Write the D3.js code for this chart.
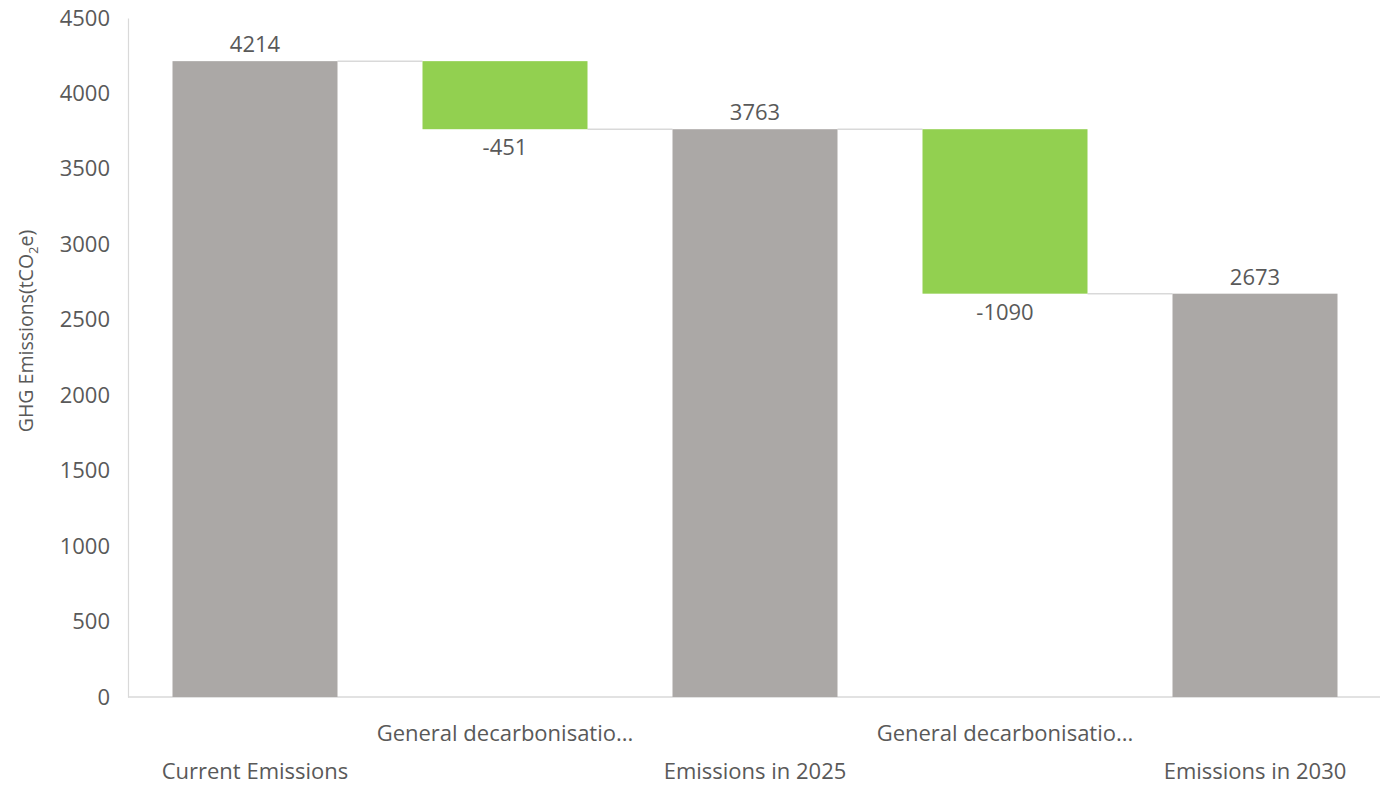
<!DOCTYPE html>
<html>
<head>
<meta charset="utf-8">
<script src="https://cdn.jsdelivr.net/npm/d3@7"></script>
<style>
  html, body { margin: 0; padding: 0; background: #fff; }
  svg { display: block; font-family: "Open Sans", "Noto Sans", sans-serif; }
</style>
</head>
<body>
<svg id="chart" width="1387" height="787"></svg>
<script>
// Waterfall steps: totals and changes
const categories = ["Current Emissions", "General decarbonisatio...", "Emissions in 2025", "General decarbonisatio...", "Emissions in 2030"];
const stepKinds = ["total", "change", "total", "change", "total"];
const stepValues = [4214, -451, 3763, -1090, 2673];
const yTicks = [0, 500, 1000, 1500, 2000, 2500, 3000, 3500, 4000, 4500];

const svg = d3.select("#chart");
const margin = { top: 18, right: 7, bottom: 90, left: 130 };
const W = 1387, H = 787;
const fontSize = 22;

const x = d3.scaleBand()
  .domain(d3.range(categories.length))
  .range([margin.left, W - margin.right])
  .paddingInner(0.34)
  .paddingOuter(0.17);

const y = d3.scaleLinear()
  .domain([0, 4500])
  .range([H - margin.bottom, margin.top]);

// Build running start/end for each step
let running = 0;
const steps = stepValues.map((v, i) => {
  let start, end;
  if (stepKinds[i] === "total") { start = 0; end = v; running = v; }
  else { start = running; end = running + v; running = end; }
  return { i, kind: stepKinds[i], value: v, start, end, level: running };
});

const textColor = "#595959";
const gridColor = "#d9d9d9";

// Y axis
const yAxis = svg.append("g")
  .attr("transform", `translate(${margin.left - 2},0)`)
  .call(d3.axisLeft(y).tickValues(yTicks).tickFormat(d3.format("d")).tickSize(0).tickPadding(18));
yAxis.select(".domain").attr("stroke", gridColor).attr("stroke-width", 1.2);
yAxis.selectAll("text").attr("fill", textColor).attr("font-size", fontSize)
  .attr("font-family", "'Open Sans', sans-serif");

// Baseline
svg.append("line")
  .attr("x1", margin.left - 2).attr("x2", W - margin.right)
  .attr("y1", y(0)).attr("y2", y(0))
  .attr("stroke", gridColor).attr("stroke-width", 1.5);

// Connector lines between consecutive bars
steps.slice(0, -1).forEach(s => {
  svg.append("line")
    .attr("x1", x(s.i) + x.bandwidth()).attr("x2", x(s.i + 1))
    .attr("y1", y(s.level)).attr("y2", y(s.level))
    .attr("stroke", gridColor).attr("stroke-width", 1.5);
});

// Bars
svg.append("g").selectAll("rect")
  .data(steps)
  .join("rect")
  .attr("x", d => x(d.i))
  .attr("width", x.bandwidth())
  .attr("y", d => y(Math.max(d.start, d.end)))
  .attr("height", d => Math.abs(y(d.start) - y(d.end)))
  .attr("fill", d => d.kind === "total" ? "#aba8a6" : "#92d050");

// Value labels
svg.append("g").selectAll("text")
  .data(steps)
  .join("text")
  .attr("x", d => x(d.i) + x.bandwidth() / 2)
  .attr("y", d => d.kind === "total" ? y(d.end) - 9 : y(d.end) + 26)
  .attr("text-anchor", "middle")
  .attr("font-size", fontSize)
  .attr("fill", textColor)
  .text(d => d.value);

// Category labels, staggered on two rows
svg.append("g").selectAll("text")
  .data(categories)
  .join("text")
  .attr("x", (d, i) => x(i) + x.bandwidth() / 2)
  .attr("y", (d, i) => i % 2 === 1 ? 741 : 779)
  .attr("text-anchor", "middle")
  .attr("font-size", fontSize)
  .attr("fill", textColor)
  .text(d => d);

// Y axis title
const title = svg.append("text")
  .attr("transform", "translate(33, 331) rotate(-90)")
  .attr("text-anchor", "middle")
  .attr("font-size", 19.5)
  .attr("fill", textColor);
title.append("tspan").text("GHG Emissions(tCO");
title.append("tspan").attr("font-size", 13).attr("dy", 5).text("2");
title.append("tspan").attr("dy", -5).text("e)");
</script>
</body>
</html>
